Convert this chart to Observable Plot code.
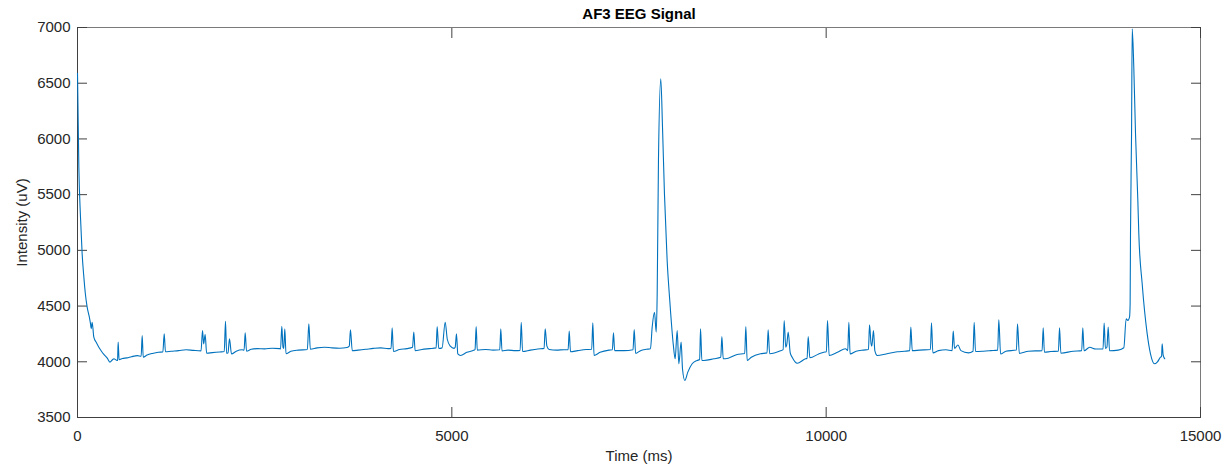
<!DOCTYPE html>
<html>
<head>
<meta charset="utf-8">
<script src="https://cdn.jsdelivr.net/npm/d3@7"></script>
<script src="https://cdn.jsdelivr.net/npm/@observablehq/plot@0.6"></script>
<style>
  html, body { margin: 0; padding: 0; background: #fff; }
  #chart svg { display: block; }
</style>
</head>
<body>
<div id="chart"></div>
<script>
const title = "AF3 EEG Signal";
const xLabel = "Time (ms)";
const yLabel = "Intensity (uV)";
const xTicks = [0, 5000, 10000, 15000];
const yTicks = [3500, 4000, 4500, 5000, 5500, 6000, 6500, 7000];

const times = [
  0, 18, 40, 62, 85, 105, 129, 160, 174, 183, 196, 218, 250, 285, 320, 352, 400, 432, 470, 485, 530, 535, 543, 556,
  600, 660, 720, 800, 850, 864, 878, 930, 1000, 1080, 1140, 1158, 1175, 1250, 1350, 1450, 1550, 1650,
  1670, 1685, 1705, 1725, 1800, 1900, 1960, 1977, 1992, 2010, 2030, 2057, 2120, 2200, 2225, 2240, 2258,
  2320, 2400, 2500, 2600, 2700, 2712, 2729, 2745, 2755, 2769, 2785, 2850, 2950, 3070, 3090, 3110, 3200,
  3300, 3400, 3500, 3600, 3630, 3646, 3670, 3750, 3850, 3950, 4050, 4150, 4188, 4203, 4220, 4300, 4400,
  4475, 4492, 4510, 4600, 4700, 4790, 4804, 4825, 4870, 4911, 4940, 4980, 5030, 5045, 5062, 5080, 5116,
  5200, 5300, 5310, 5325, 5340, 5450, 5550, 5640, 5654, 5670, 5750, 5850, 5912, 5927, 5945, 6050, 6150,
  6232, 6247, 6270, 6300, 6400, 6500, 6553, 6568, 6585, 6680, 6800, 6868, 6883, 6900, 6980, 7100, 7144,
  7159, 7175, 7300, 7420, 7436, 7455, 7520, 7600, 7653, 7676, 7707, 7730, 7743, 7760, 7791, 7814, 7840,
  7876, 7911, 7957, 7983, 8010, 8032, 8063, 8081, 8112, 8152, 8210, 8277, 8310, 8322, 8340, 8366, 8500,
  8592, 8607, 8625, 8655, 8811, 8912, 8927, 8945, 9000, 9123, 9210, 9225, 9245, 9390, 9425, 9439, 9460,
  9475, 9493, 9520, 9546, 9613, 9724, 9745, 9760, 9782, 9900, 9969, 10003, 10018, 10040, 10150, 10258,
  10288, 10303, 10320, 10400, 10500, 10565, 10579, 10600, 10610, 10632, 10650, 10682, 10800, 10950, 11050,
  11116, 11131, 11150, 11250, 11392, 11407, 11425, 11500, 11600, 11682, 11697, 11715, 11760, 11800, 11900,
  11962, 11977, 11995, 12100, 12200, 12291, 12306, 12330, 12400, 12541, 12556, 12580, 12700, 12884, 12899,
  12915, 13000, 13102, 13117, 13135, 13300, 13413, 13428, 13445, 13520, 13600, 13698, 13713, 13730, 13750,
  13767, 13785, 13900, 13976, 14007, 14030, 14052, 14060, 14065, 14079, 14088, 14109, 14132, 14163, 14176,
  14221, 14288, 14332, 14386, 14422, 14466, 14480, 14488, 14502, 14523
];

const values = [
  6590, 5746, 5298, 4969, 4760, 4610, 4490, 4395, 4340, 4296, 4355, 4221, 4175, 4131, 4095, 4066, 4030, 3997, 4020, 4027, 4012, 4015, 4176, 4018,
  4030, 4035, 4045, 4055, 4050, 4236, 4041, 4060, 4075, 4086, 4088, 4251, 4090, 4095, 4100, 4108, 4102, 4098,
  4281, 4161, 4245, 4077, 4082, 4088, 4092, 4364, 4075, 4080, 4206, 4070, 4095, 4108, 4105, 4260, 4095,
  4112, 4118, 4116, 4122, 4118, 4115, 4319, 4130, 4120, 4296, 4072, 4095, 4105, 4110, 4341, 4112, 4125,
  4131, 4125, 4122, 4128, 4140, 4287, 4099, 4105, 4112, 4120, 4125, 4118, 4120, 4305, 4092, 4110, 4118,
  4130, 4266, 4099, 4110, 4118, 4125, 4317, 4120, 4125, 4355, 4200, 4140, 4120, 4130, 4251, 4070, 4057,
  4085, 4105, 4110, 4317, 4105, 4110, 4105, 4108, 4296, 4098, 4105, 4100, 4102, 4355, 4092, 4105, 4115,
  4120, 4296, 4140, 4110, 4105, 4108, 4108, 4275, 4090, 4100, 4110, 4112, 4350, 4057, 4085, 4105, 4108,
  4260, 4100, 4100, 4108, 4290, 4075, 4100, 4112, 4117, 4311, 4445, 4266, 4613, 5806, 6540, 6105, 5507,
  4909, 4550, 4161, 4027, 4281, 3982, 4176, 3937, 3832, 3907, 3982, 4012, 4020, 4296, 4012, 4012, 4027,
  4040, 4227, 4027, 4027, 4066, 4075, 4317, 4012, 4040, 4072, 4080, 4287, 4072, 4099, 4110, 4371, 4130,
  4160, 4266, 4080, 4041, 3987, 4027, 4030, 4227, 4036, 4070, 4086, 4090, 4371, 4057, 4085, 4117,
  4100, 4355, 4070, 4095, 4105, 4110, 4332, 4160, 4140, 4281, 4100, 4057, 4070, 4090, 4095,
  4100, 4311, 4100, 4105, 4110, 4350, 4080, 4100, 4108, 4100, 4275, 4120, 4150, 4100, 4080,
  4095, 4355, 4092, 4095, 4100, 4105, 4377, 4070, 4095, 4105, 4341, 4075, 4095, 4100, 4305,
  4086, 4092, 4095, 4305, 4077, 4095, 4100, 4305, 4099, 4130, 4115, 4115, 4347, 4120, 4130,
  4311, 4099, 4105, 4126, 4386, 4371, 4400, 4520, 5149, 6046, 6988, 6644, 6046, 5447, 5149,
  4700, 4251, 4072, 3982, 3997, 4041, 4050, 4161, 4057, 4027
];

const data = times.map((t, i) => ({t, v: values[i]}));
const fmt = d3.format("d");
const ink = "#262626";

const chart = Plot.plot({
  width: 1231,
  height: 468,
  marginTop: 27,
  marginBottom: 51,
  marginLeft: 77,
  marginRight: 31,
  style: {fontFamily: "'Liberation Sans', Arial, sans-serif", fontSize: "15px", color: ink, background: "#fff"},
  x: {domain: [0, 15000], label: null},
  y: {domain: [3500, 7000], label: null},
  marks: [
    Plot.frame({stroke: "#7a7a7a", strokeWidth: 1}),
    Plot.ruleX([0], {stroke: "#404040"}),
    Plot.ruleY([3500], {stroke: "#404040"}),
    Plot.axisX({anchor: "bottom", ticks: xTicks, tickSize: -10, tickFormat: () => "", label: null, stroke: "#404040"}),
    Plot.axisX({anchor: "top", ticks: xTicks, tickSize: -10, tickFormat: () => "", label: null, stroke: "#404040"}),
    Plot.axisY({anchor: "left", ticks: yTicks, tickSize: -10, tickFormat: () => "", label: null, stroke: "#404040"}),
    Plot.axisY({anchor: "right", ticks: yTicks, tickSize: -10, tickFormat: () => "", label: null, stroke: "#404040"}),
    Plot.axisX({anchor: "bottom", ticks: xTicks, tickSize: 0, tickPadding: 13, tickFormat: fmt, label: null, fill: ink}),
    Plot.axisY({anchor: "left", ticks: yTicks, tickSize: 0, tickPadding: 7, tickFormat: fmt, label: null, fill: ink}),
    Plot.line(data, {x: "t", y: "v", stroke: "#0072BD", strokeWidth: 1.1, curve: "monotone-x"}),
    Plot.text([title], {frameAnchor: "top", dy: -13, lineAnchor: "middle", fontWeight: "bold", fontSize: 15, fill: "#000"}),
    Plot.text([xLabel], {frameAnchor: "bottom", dy: 39, lineAnchor: "middle", fontSize: 15, fill: ink}),
    Plot.text([yLabel], {frameAnchor: "left", dx: -55, rotate: -90, lineAnchor: "middle", textAnchor: "middle", fontSize: 15, fill: ink})
  ]
});
document.getElementById("chart").appendChild(chart);
</script>
</body>
</html>
